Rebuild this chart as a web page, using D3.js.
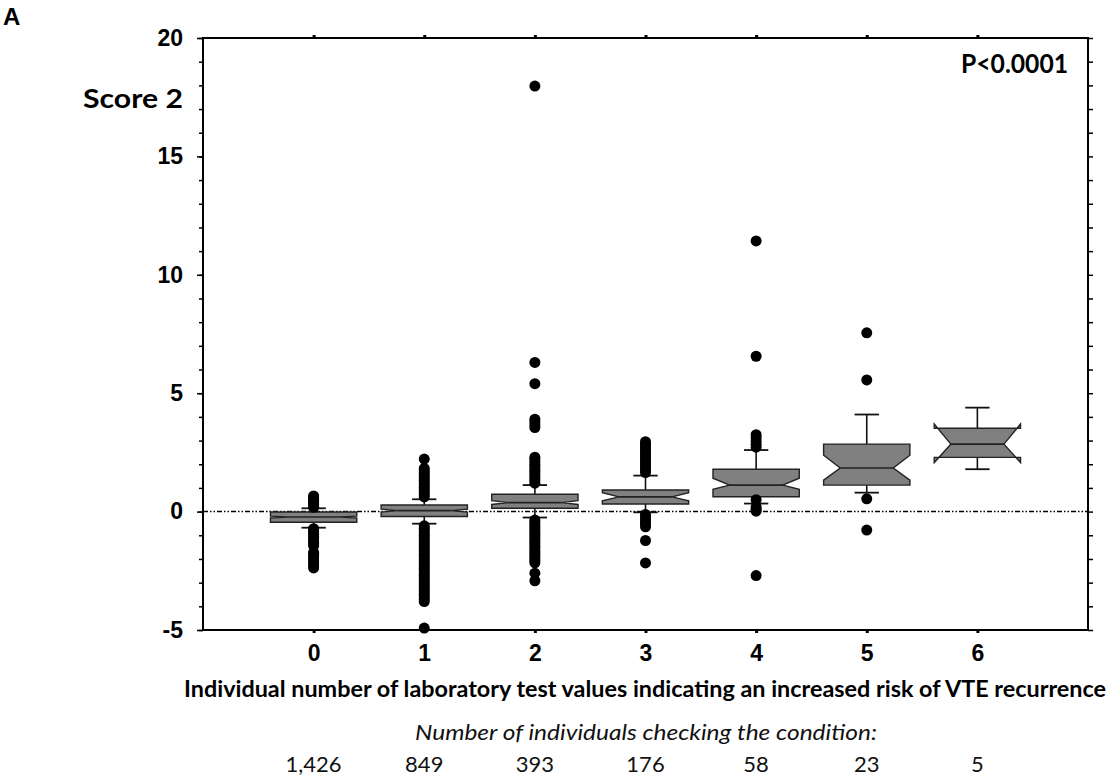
<!DOCTYPE html>
<html><head><meta charset="utf-8">
<script src="https://cdn.jsdelivr.net/npm/d3@7"></script>
<style>
html,body{margin:0;padding:0;background:#fff;}
svg{display:block;}
</style></head>
<body>
<svg id="chart" width="1107" height="777"></svg>
<script>
// ---- data ----
const categories = ["0","1","2","3","4","5","6"];
const q1 =          [-0.45,-0.21,0.14,0.32,0.63,1.12,2.29];
const medians =     [-0.23, 0.04,0.38,0.62,1.12,1.84,2.85];
const q3 =          [-0.02, 0.28,0.73,0.91,1.79,2.85,3.52];
const whiskerLow =  [-0.68,-0.51,-0.25,-0.03,0.34,0.80,1.79];
const whiskerHigh = [ 0.14, 0.52,1.12,1.52,2.60,4.10,4.39];
const notchLow =    [-0.27,-0.02,0.30,0.46,0.94,1.33,2.07];
const notchHigh =   [-0.19, 0.10,0.46,0.80,1.41,2.38,3.70];
const outliers0 = [0.66,0.60,0.54,0.48,0.42,0.36,0.30,0.24,0.18,
  -0.72,-0.80,-0.88,-0.96,-1.04,-1.12,-1.20,-1.28,-1.36,-1.44,
  -1.72,-1.80,-1.90,-2.00,-2.10,-2.20,-2.30,-2.38];
const outliers1 = [2.22,1.82,1.72,1.62,1.52,1.42,1.32,1.22,1.12,1.02,0.92,0.82,0.72,0.62,
  -0.60,-0.70,-0.80,-0.90,-1.00,-1.10,-1.20,-1.30,-1.40,-1.50,-1.60,-1.70,-1.80,-1.90,
  -2.00,-2.10,-2.20,-2.30,-2.40,-2.50,-2.60,-2.70,-2.80,-2.90,-3.00,-3.10,-3.20,-3.30,
  -3.40,-3.50,-3.60,-3.70,-3.80,-4.92];
const outliers2 = [17.97,6.30,5.40,3.90,3.78,3.66,3.55,
  2.30,2.20,2.10,2.00,1.90,1.80,1.70,1.60,1.50,1.40,1.30,1.20,
  -0.36,-0.46,-0.56,-0.66,-0.76,-0.86,-0.96,-1.06,-1.16,-1.26,-1.36,-1.46,-1.56,-1.66,
  -1.76,-1.86,-1.96,-2.06,-2.16,-2.60,-2.92];
const outliers3 = [2.95,2.85,2.75,2.65,2.55,2.45,2.35,2.25,2.15,2.05,1.95,1.85,1.75,1.65,
  -0.12,-0.22,-0.32,-0.42,-0.52,-0.64,-1.22,-2.17];
const outliers4 = [11.43,6.56,3.25,3.12,2.98,2.84,2.72,0.50,0.20,0.10,0.02,-2.70];
const outliers5 = [7.55,5.56,0.54,-0.78];
const outliers6 = [];
const outliers = [outliers0,outliers1,outliers2,outliers3,outliers4,outliers5,outliers6];
const counts = ["1,426","849","393","176","58","23","5"];
const yMajorTicks = [-5,0,5,10,15,20];
const yMinorTicks = d3.range(-5,21,1);
const yDomain = [-5,20];
const pValue = "P<0.0001";
const yTitle = "Score 2";
const xTitle = "Individual number of laboratory test values indicating an increased risk of VTE recurrence";
const countTitle = "Number of individuals checking the condition:";
const panelLabel = "A";

// ---- layout ----
const L = 203, R = 1088, T = 38, B = 630;
const svg = d3.select("#chart");
const x = d3.scalePoint().domain(categories).range([L, R]).padding(1);
const y = d3.scaleLinear().domain(yDomain).range([B, T]);
const step = x.step();
const boxW = step * 0.78, capW = step * 0.22, indent = step * 0.15;

const tickFont = "'Liberation Sans', Arial, sans-serif";
const calFont = "Lato, 'Open Sans', sans-serif";

// zero reference line
svg.append("line")
  .attr("x1", L).attr("x2", R).attr("y1", y(0)).attr("y2", y(0))
  .attr("stroke", "#000").attr("stroke-width", 1.5)
  .attr("stroke-dasharray", "5,2,1.5,2,1.5,2");

// boxes
const groups = categories.map((c,i) => ({c, i}));
const g = svg.append("g").selectAll("g").data(groups).join("g");

// whiskers
g.append("line").attr("x1", d=>x(d.c)).attr("x2", d=>x(d.c))
  .attr("y1", d=>y(q3[d.i])).attr("y2", d=>y(whiskerHigh[d.i]))
  .attr("stroke","#111").attr("stroke-width",1.6);
g.append("line").attr("x1", d=>x(d.c)).attr("x2", d=>x(d.c))
  .attr("y1", d=>y(q1[d.i])).attr("y2", d=>y(whiskerLow[d.i]))
  .attr("stroke","#111").attr("stroke-width",1.6);
g.append("line").attr("x1", d=>x(d.c)-capW/2).attr("x2", d=>x(d.c)+capW/2)
  .attr("y1", d=>y(whiskerHigh[d.i])).attr("y2", d=>y(whiskerHigh[d.i]))
  .attr("stroke","#111").attr("stroke-width",1.8);
g.append("line").attr("x1", d=>x(d.c)-capW/2).attr("x2", d=>x(d.c)+capW/2)
  .attr("y1", d=>y(whiskerLow[d.i])).attr("y2", d=>y(whiskerLow[d.i]))
  .attr("stroke","#111").attr("stroke-width",1.8);

// notched box polygon
g.append("path")
  .attr("d", d => {
    const cx = x(d.c), xl = cx - boxW/2, xr = cx + boxW/2;
    const a = y(q1[d.i]), b = y(q3[d.i]), m = y(medians[d.i]);
    const nl = y(notchLow[d.i]), nh = y(notchHigh[d.i]);
    const p = d3.path();
    p.moveTo(xl, a); p.lineTo(xl, nl); p.lineTo(xl+indent, m); p.lineTo(xl, nh); p.lineTo(xl, b);
    p.lineTo(xr, b); p.lineTo(xr, nh); p.lineTo(xr-indent, m); p.lineTo(xr, nl); p.lineTo(xr, a);
    p.closePath();
    return p.toString();
  })
  .attr("fill", "#808080").attr("stroke", "#222").attr("stroke-width", 1.4)
  .attr("stroke-linejoin","miter");
// median
g.append("line")
  .attr("x1", d=>x(d.c)-boxW/2+indent).attr("x2", d=>x(d.c)+boxW/2-indent)
  .attr("y1", d=>y(medians[d.i])).attr("y2", d=>y(medians[d.i]))
  .attr("stroke","#222").attr("stroke-width",1.6);

// outliers
g.selectAll("circle").data(d => outliers[d.i].map(v => ({c:d.c, v})))
  .join("circle")
  .attr("cx", d=>x(d.c)).attr("cy", d=>y(d.v)).attr("r", 5.5)
  .attr("fill", "#000");

// ---- axes ----
const axStroke = 2;
// left minor
svg.append("g").attr("transform",`translate(${L},0)`)
  .call(d3.axisLeft(y).tickValues(yMinorTicks).tickSize(4).tickFormat(""))
  .call(a=>a.select(".domain").remove());
// left major
const yl = svg.append("g").attr("transform",`translate(${L},0)`)
  .call(d3.axisLeft(y).tickValues(yMajorTicks).tickSize(6).tickPadding(14).tickFormat(d => String(d)));
yl.select(".domain").remove();
yl.selectAll("text").attr("font-family", tickFont).attr("font-weight","bold")
  .attr("font-size", 23).attr("fill","#000");
// right ticks
svg.append("g").attr("transform",`translate(${R},0)`)
  .call(d3.axisRight(y).tickValues(yMinorTicks).tickSize(5).tickFormat(""))
  .call(a=>a.select(".domain").remove());
// bottom
const xb = svg.append("g").attr("transform",`translate(0,${B})`)
  .call(d3.axisBottom(x).tickSize(3).tickPadding(12));
xb.select(".domain").remove();
xb.selectAll("line").attr("stroke-width", 3);
xb.selectAll("text").attr("font-family", tickFont).attr("font-weight","bold")
  .attr("font-size", 23).attr("fill","#000");
// top
svg.append("g").attr("transform",`translate(0,${T})`)
  .call(d3.axisTop(x).tickSize(3).tickFormat(""))
  .call(a=>a.select(".domain").remove())
  .selectAll("line").attr("stroke-width", 3);
svg.selectAll(".tick line").attr("stroke","#000").filter(function(){return !this.getAttribute("stroke-width");}).attr("stroke-width",1.5);

// frame
svg.append("rect").attr("x", L).attr("y", T).attr("width", R-L).attr("height", B-T)
  .attr("fill","none").attr("stroke","#000").attr("stroke-width", axStroke);

// ---- texts ----
svg.append("text").attr("x", 3).attr("y", 25).text(panelLabel)
  .attr("font-family", tickFont).attr("font-weight","bold").attr("font-size", 24);
svg.append("text").attr("x", 183).attr("y", 108).attr("text-anchor","end").text(yTitle)
  .attr("font-family", calFont).attr("font-weight","bold").attr("font-size", 27)
  .attr("textLength", 100).attr("lengthAdjust","spacingAndGlyphs");
svg.append("text").attr("x", 1068).attr("y", 73).attr("text-anchor","end").text(pValue)
  .attr("font-family", calFont).attr("font-weight","bold").attr("font-size", 26)
  .attr("textLength", 107).attr("lengthAdjust","spacingAndGlyphs");
svg.append("text").attr("x", 645).attr("y", 697).attr("text-anchor","middle").text(xTitle)
  .attr("font-family", calFont).attr("font-weight","bold").attr("font-size", 22)
  .attr("textLength", 922).attr("lengthAdjust","spacingAndGlyphs");
svg.append("text").attr("x", 646).attr("y", 740).attr("text-anchor","middle").text(countTitle)
  .attr("font-family", calFont).attr("font-style","italic").attr("font-size", 22)
  .attr("textLength", 462).attr("lengthAdjust","spacingAndGlyphs").attr("fill","#111");
svg.append("g").selectAll("text").data(categories).join("text")
  .attr("x", d=>x(d)).attr("y", 772).attr("text-anchor","middle")
  .text((d,i)=>counts[i])
  .attr("font-family", calFont).attr("font-size", 22).attr("fill","#111");
</script>
</body></html>
